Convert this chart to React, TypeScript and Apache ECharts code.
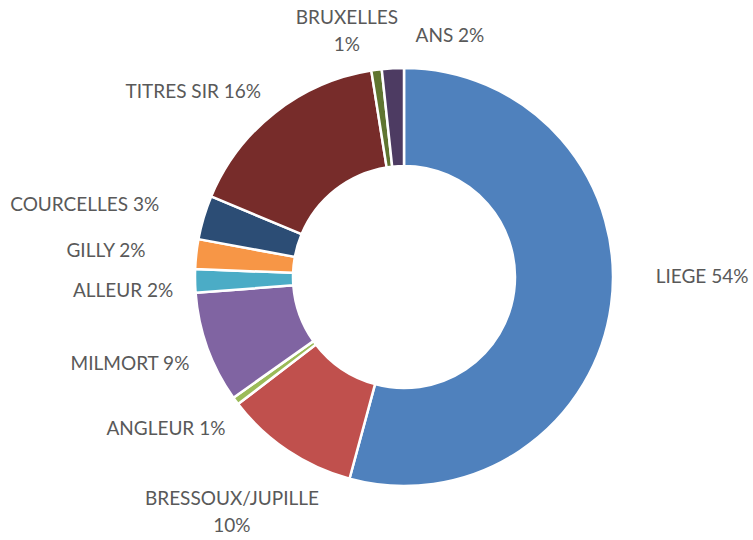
import React, { useEffect, useRef } from "react";
import * as echarts from "echarts";

const NAMES = [
  "LIEGE",
  "BRESSOUX/JUPILLE",
  "ANGLEUR",
  "MILMORT",
  "ALLEUR",
  "GILLY",
  "COURCELLES",
  "TITRES SIR",
  "BRUXELLES",
  "ANS",
];
const VALUES = [54.2, 10.4, 0.6, 8.6, 1.8, 2.3, 3.4, 16.2, 0.8, 1.7];
const COLORS = [
  "#4F81BD",
  "#C0504D",
  "#9BBB59",
  "#8064A2",
  "#4BACC6",
  "#F79646",
  "#2C4D75",
  "#772C2A",
  "#5F7530",
  "#4D3B62",
];
// labels whose percentage goes on a second line
const WRAP = [false, true, false, false, false, false, false, false, true, false];
// label placement tweaks (px) relative to a radial anchor
const LABEL_NUDGE: [number, number][] = [
  [18.5, -39],
  [-15, 0],
  [-11, -17],
  [-8.7, -10.5],
  [1, 6.7],
  [-17.7, 3],
  [-49, 7],
  [-36.5, 35],
  [-20, 32.5],
  [61, 38.6],
];

const CX = 404;
const CY = 277;
const LABEL_R = 282;

export default function App() {
  const ref = useRef<HTMLDivElement>(null);
  useEffect(() => {
    document.body.style.margin = "0";
    const chart = echarts.init(ref.current!, undefined, { renderer: "svg" });
    const total = VALUES.reduce((a, b) => a + b, 0);
    const mids: number[] = [];
    let acc = 0;
    VALUES.forEach((v) => {
      mids.push(((acc + v / 2) / total) * Math.PI * 2);
      acc += v;
    });
    chart.setOption({
      animation: false,
      backgroundColor: "#ffffff",
      series: [
        {
          type: "pie",
          center: [CX, CY],
          radius: [111, 209],
          startAngle: 90,
          clockwise: true,
          avoidLabelOverlap: false,
          itemStyle: { borderColor: "#ffffff", borderWidth: 2.5 },
          label: {
            show: true,
            position: "outside",
            color: "#595959",
            fontFamily: "Lato",
            fontSize: 19,
            lineHeight: 27,
            align: "center",
            formatter: (p: any) =>
              p.name + (WRAP[p.dataIndex] ? "\n" : " ") + Math.round(p.percent) + "%",
          },
          labelLine: { show: false },
          labelLayout: (p: any) => {
            const i = p.dataIndex;
            const a = mids[i];
            return {
              x: CX + LABEL_R * Math.sin(a) + LABEL_NUDGE[i][0],
              y: CY - LABEL_R * Math.cos(a) + LABEL_NUDGE[i][1],
              align: "center",
              verticalAlign: "middle",
            };
          },
          data: NAMES.map((n, i) => ({
            name: n,
            value: VALUES[i],
            itemStyle: { color: COLORS[i] },
          })),
        },
      ],
    });
    return () => chart.dispose();
  }, []);
  return <div ref={ref} style={{ width: 753, height: 540 }} />;
}
